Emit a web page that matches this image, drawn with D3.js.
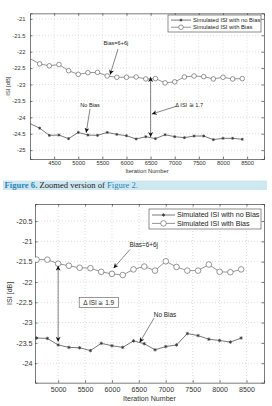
<!DOCTYPE html>
<html>
<head>
<meta charset="utf-8">
<script src="https://cdn.jsdelivr.net/npm/d3@7"></script>
<style>
body { margin: 0; background: #fff; }
svg { display: block; font-family: "Liberation Sans", Arial, sans-serif; }
.grid { stroke: #c8c8c8; stroke-width: 0.6; stroke-dasharray: 1,2; }
.axis path, .axis line { stroke: #444; stroke-width: 0.7; }
.axis text { fill: #333; }
</style>
</head>
<body>
<div id="chart"></div>
<script>
// upper panel (zoomed Figure 2)
var iterTop = [4000, 4200, 4400, 4600, 4800, 5000, 5200, 5400, 5600, 5800, 6000, 6200,
               6400, 6600, 6800, 7000, 7200, 7400, 7600, 7800, 8000, 8200, 8400];
var biasTop = [-22.21, -22.37, -22.43, -22.39, -22.58, -22.69, -22.64, -22.63, -22.74, -22.78, -22.78, -22.77,
               -22.83, -22.82, -22.95, -22.92, -22.77, -22.74, -22.76, -22.83, -22.78, -22.83, -22.82];
var noBiasTop = [-24.19, -24.33, -24.55, -24.54, -24.65, -24.46, -24.54, -24.55, -24.46, -24.52, -24.56, -24.66,
                 -24.59, -24.65, -24.53, -24.59, -24.62, -24.57, -24.57, -24.68, -24.64, -24.64, -24.67];
var xTicksTop = [4500, 5000, 5500, 6000, 6500, 7000, 7500, 8000, 8500];
var yTicksTop = [-21, -21.5, -22, -22.5, -23, -23.5, -24, -24.5, -25];

// lower panel
var iterBottom = [4600, 4800, 5000, 5200, 5400, 5600, 5800, 6000, 6200, 6400,
                  6600, 6800, 7000, 7200, 7400, 7600, 7800, 8000, 8200, 8400];
var biasBottom = [-21.45, -21.45, -21.55, -21.60, -21.65, -21.66, -21.75, -21.80, -21.83, -21.69,
                  -21.62, -21.72, -21.49, -21.63, -21.72, -21.72, -21.57, -21.75, -21.76, -21.69];
var noBiasBottom = [-23.38, -23.39, -23.55, -23.61, -23.62, -23.69, -23.51, -23.57, -23.61, -23.45,
                    -23.52, -23.67, -23.59, -23.55, -23.27, -23.32, -23.41, -23.44, -23.48, -23.38];
var xTicksBottom = [5000, 5500, 6000, 6500, 7000, 7500, 8000, 8500];
var yTicksBottom = [-20.5, -21, -21.5, -22, -22.5, -23, -23.5, -24];

var legendNames = ["Simulated ISI with no Bias", "Simulated ISI with Bias"];

var svg = d3.select("#chart").append("svg")
    .attr("width", 272)
    .attr("height", 406);

var defs = svg.append("defs");
defs.append("marker")
    .attr("id", "head")
    .attr("viewBox", "0 0 10 10")
    .attr("refX", 10).attr("refY", 5)
    .attr("markerWidth", 5).attr("markerHeight", 5)
    .attr("markerUnits", "userSpaceOnUse")
    .attr("orient", "auto-start-reverse")
    .append("path")
    .attr("d", "M0,0L10,5L0,10L3,5Z")
    .attr("fill", "#111");

function drawPanel(p) {
    var x = d3.scaleLinear().domain(p.xDomain).range([p.left, p.right]);
    var y = d3.scaleLinear().domain(p.yDomain).range([p.bottom, p.top]);

    svg.append("clipPath").attr("id", "clip" + p.id)
        .append("rect")
        .attr("x", p.left).attr("y", p.top)
        .attr("width", p.right - p.left).attr("height", p.bottom - p.top);

    var g = svg.append("g");

    // dotted grid
    g.selectAll(".gx").data(p.xTicks).enter().append("line")
        .attr("class", "grid")
        .attr("x1", x).attr("x2", x)
        .attr("y1", p.top).attr("y2", p.bottom);
    g.selectAll(".gy").data(p.yTicks).enter().append("line")
        .attr("class", "grid")
        .attr("x1", p.left).attr("x2", p.right)
        .attr("y1", y).attr("y2", y);

    // axes, ticks pointing inward like matlab
    g.append("g").attr("class", "axis")
        .attr("transform", "translate(0," + p.bottom + ")")
        .call(d3.axisBottom(x).tickValues(p.xTicks).tickSize(-2.5).tickPadding(p.xPad).tickFormat(String))
        .style("font-size", p.font + "px");
    g.append("g").attr("class", "axis")
        .attr("transform", "translate(0," + p.top + ")")
        .call(d3.axisTop(x).tickValues(p.xTicks).tickSize(-2.5).tickFormat(""));
    g.append("g").attr("class", "axis")
        .attr("transform", "translate(" + p.left + ",0)")
        .call(d3.axisLeft(y).tickValues(p.yTicks).tickSize(-2.5).tickPadding(p.yPad).tickFormat(String))
        .style("font-size", p.font + "px");
    g.append("g").attr("class", "axis")
        .attr("transform", "translate(" + p.right + ",0)")
        .call(d3.axisRight(y).tickValues(p.yTicks).tickSize(-2.5).tickFormat(""));

    // axis labels
    g.append("text")
        .attr("x", (p.left + p.right) / 2)
        .attr("y", p.xLabelY)
        .attr("text-anchor", "middle")
        .style("font-size", p.font + "px")
        .style("fill", "#333")
        .text("Iteration Number");
    g.append("text")
        .attr("transform", "translate(" + p.yLabelX + "," + (p.top + p.bottom) / 2 + ") rotate(-90)")
        .attr("text-anchor", "middle")
        .style("font-size", p.font + "px")
        .style("fill", "#333")
        .text("ISI [dB]");

    var line = d3.line()
        .x(function (d) { return x(d[0]); })
        .y(function (d) { return y(d[1]); });

    var bias = d3.zip(p.iter, p.bias),
        noBias = d3.zip(p.iter, p.noBias);

    var plot = g.append("g").attr("clip-path", "url(#clip" + p.id + ")");

    plot.append("path").datum(bias)
        .attr("d", line)
        .attr("fill", "none").attr("stroke", "#7a7a7a").attr("stroke-width", 0.8);
    plot.append("path").datum(noBias)
        .attr("d", line)
        .attr("fill", "none").attr("stroke", "#555").attr("stroke-width", 0.8);

    // markers only for points that sit inside the axis limits
    var inside = function (d) { return d[0] > p.xDomain[0]; };
    plot.selectAll(".circ").data(bias.filter(inside)).enter().append("circle")
        .attr("cx", function (d) { return x(d[0]); })
        .attr("cy", function (d) { return y(d[1]); })
        .attr("r", p.r)
        .attr("fill", "#fff").attr("stroke", "#6a6a6a").attr("stroke-width", 0.7);
    var star = d3.symbol().type(d3.symbolAsterisk).size(p.star);
    plot.selectAll(".star").data(noBias.filter(inside)).enter().append("path")
        .attr("d", star)
        .attr("transform", function (d) { return "translate(" + x(d[0]) + "," + y(d[1]) + ")"; })
        .attr("fill", "none").attr("stroke", "#333").attr("stroke-width", 0.8);

    // annotations
    var ann = g.append("g").style("font-size", p.annFont + "px").style("fill", "#222");
    p.texts.forEach(function (t) {
        ann.append("text")
            .attr("x", x(t.at[0])).attr("y", y(t.at[1]))
            .attr("text-anchor", "middle")
            .attr("dy", "0.35em")
            .text(t.label);
    });
    p.arrows.forEach(function (a) {
        ann.append("line")
            .attr("x1", x(a.from[0])).attr("y1", y(a.from[1]))
            .attr("x2", x(a.to[0])).attr("y2", y(a.to[1]))
            .attr("stroke", "#333").attr("stroke-width", 0.6)
            .attr("marker-end", "url(#head)");
    });
    if (p.box) {
        var b = p.box;
        var bx = ann.append("g");
        var txt = bx.append("text")
            .attr("x", x(b.at[0])).attr("y", y(b.at[1]))
            .attr("text-anchor", "middle").attr("dy", "0.35em")
            .text(b.label);
        var bb = txt.node().getBBox();
        bx.insert("rect", "text")
            .attr("x", bb.x - 4).attr("y", bb.y - 1.5)
            .attr("width", bb.width + 8).attr("height", bb.height + 3)
            .attr("fill", "#fff").attr("stroke", "#555").attr("stroke-width", 0.6);
    }

    // legend
    var lg = g.append("g");
    lg.append("rect")
        .attr("x", p.legend.x).attr("y", p.legend.y)
        .attr("width", p.legend.w).attr("height", p.legend.h)
        .attr("fill", "#fff").attr("stroke", "#444").attr("stroke-width", 0.6);
    legendNames.forEach(function (name, i) {
        var ly = p.legend.y + p.legend.h * (i === 0 ? 0.3 : 0.72);
        var lx0 = p.legend.x + 3, lx1 = lx0 + p.legend.sample;
        lg.append("line")
            .attr("x1", lx0).attr("x2", lx1).attr("y1", ly).attr("y2", ly)
            .attr("stroke", i === 0 ? "#555" : "#7a7a7a").attr("stroke-width", 0.8);
        if (i === 0) {
            lg.append("path").attr("d", star)
                .attr("transform", "translate(" + (lx0 + lx1) / 2 + "," + ly + ")")
                .attr("fill", "none").attr("stroke", "#333").attr("stroke-width", 0.8);
        } else {
            lg.append("circle").attr("cx", (lx0 + lx1) / 2).attr("cy", ly).attr("r", p.r)
                .attr("fill", "#fff").attr("stroke", "#6a6a6a").attr("stroke-width", 0.7);
        }
        lg.append("text")
            .attr("x", lx1 + 2).attr("y", ly).attr("dy", "0.35em")
            .style("font-size", p.font + "px").style("fill", "#222")
            .text(name);
    });
}

drawPanel({
    id: "a",
    left: 30, right: 264, top: 13.3, bottom: 159,
    xDomain: [4000, 8850], yDomain: [-25.27, -20.83],
    xTicks: xTicksTop, yTicks: yTicksTop,
    iter: iterTop, bias: biasTop, noBias: noBiasTop,
    font: 5.8, annFont: 5.6, xPad: 2.3, yPad: 4.5,
    xLabelY: 173, yLabelX: 10,
    r: 2.3, star: 6,
    legend: { x: 168, y: 15, w: 93, h: 17, sample: 20 },
    texts: [
        { label: "Bias=6+6j", at: [5780, -21.73] },
        { label: "No Bias", at: [5244, -23.63] },
        { label: "\u0394 ISI  \u2245 1.7", at: [7300, -23.62] }
    ],
    arrows: [
        { from: [5824, -21.92], to: [5660, -22.70] },
        { from: [5244, -23.74], to: [5165, -24.47] },
        { from: [7040, -23.66], to: [6525, -23.90] },
        { from: [6500, -23.3], to: [6500, -22.77] },
        { from: [6500, -23.3], to: [6500, -24.6] }
    ]
});

drawPanel({
    id: "b",
    left: 35, right: 264, top: 204, bottom: 382.7,
    xDomain: [4570, 8825], yDomain: [-24.48, -20.08],
    xTicks: xTicksBottom, yTicks: yTicksBottom,
    iter: iterBottom, bias: biasBottom, noBias: noBiasBottom,
    font: 7.1, annFont: 6.4, xPad: 3.8, yPad: 2.5,
    xLabelY: 401, yLabelX: 12,
    r: 2.8, star: 8,
    legend: { x: 149, y: 209, w: 112, h: 20, sample: 23 },
    texts: [
        { label: "Bias=6+6j", at: [6590, -21.08] },
        { label: "No Bias", at: [6985, -22.81] }
    ],
    box: { label: "\u0394 ISI  \u2245 1.9", at: [5753, -22.51] },
    arrows: [
        { from: [6335, -21.2], to: [6030, -21.66] },
        { from: [6781, -22.89], to: [6515, -23.49] },
        { from: [5000, -22.5], to: [5000, -21.6] },
        { from: [5000, -22.5], to: [5000, -23.47] }
    ]
});

// caption between the two panels
var cap = svg.append("g");
cap.append("rect")
    .attr("x", 3).attr("y", 180.5)
    .attr("width", 264).attr("height", 9.5)
    .attr("fill", "#cfe7f1");
var ct = cap.append("text")
    .attr("x", 4.5).attr("y", 188.3)
    .style("font-family", "'Liberation Serif', 'Times New Roman', serif")
    .style("font-size", "8.6px");
ct.append("tspan").style("fill", "#2b86b8").style("font-weight", "bold").text("Figure 6.");
ct.append("tspan").style("fill", "#222").text(" Zoomed version of ");
ct.append("tspan").style("fill", "#2b86b8").text("Figure 2.");
</script>
</body>
</html>
